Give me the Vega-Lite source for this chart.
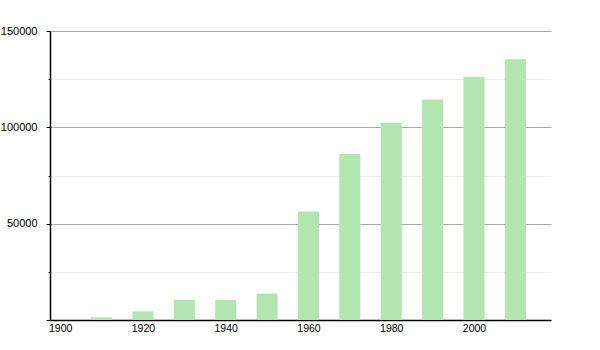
{
  "$schema": "https://vega.github.io/schema/vega-lite/v6.json",
  "autosize": "none",
  "width": 501,
  "height": 289,
  "padding": {"left": 50, "top": 31, "right": 49, "bottom": 30},
  "background": "white",
  "config": {"view": {"stroke": null}, "font": "Liberation Sans"},
  "data": {"values": [
    {"year": 1910, "population": 1400},
    {"year": 1920, "population": 4500},
    {"year": 1930, "population": 10500},
    {"year": 1940, "population": 10400},
    {"year": 1950, "population": 13700},
    {"year": 1960, "population": 56300},
    {"year": 1970, "population": 86100},
    {"year": 1980, "population": 102200},
    {"year": 1990, "population": 114500},
    {"year": 2000, "population": 126100},
    {"year": 2010, "population": 135400}
  ]},
  "mark": {"type": "bar", "size": 21, "color": "#b2e5b0"},
  "encoding": {
    "x": {
      "field": "year", "type": "quantitative",
      "scale": {"domain": [1897.55, 2018.6], "nice": false, "zero": false, "padding": 0},
      "axis": {
        "title": null, "values": [1900, 1920, 1940, 1960, 1980, 2000],
        "format": "d", "ticks": false, "grid": false,
        "domainColor": "#000", "domainWidth": 1.5,
        "labelColor": "#000", "labelFontSize": 10.5, "labelPadding": 3,
        "labelFlush": false
      }
    },
    "y": {
      "field": "population", "type": "quantitative",
      "scale": {"domain": [0, 150000], "nice": false},
      "axis": {
        "title": null,
        "values": [0, 25000, 50000, 75000, 100000, 125000, 150000],
        "labelExpr": "datum.value % 50000 === 0 && datum.value > 0 ? format(datum.value, 'd') : ''",
        "gridColor": {"expr": "datum.value % 50000 === 0 ? '#a8a8a8' : '#ececec'"},
        "gridWidth": 1,
        "tickColor": "#000",
        "tickSize": {"expr": "datum.value % 50000 === 0 ? 4 : 2"},
        "domainColor": "#000", "domainWidth": 1.5,
        "labelColor": "#000", "labelFontSize": 11, "labelPadding": 9
      }
    }
  }
}
